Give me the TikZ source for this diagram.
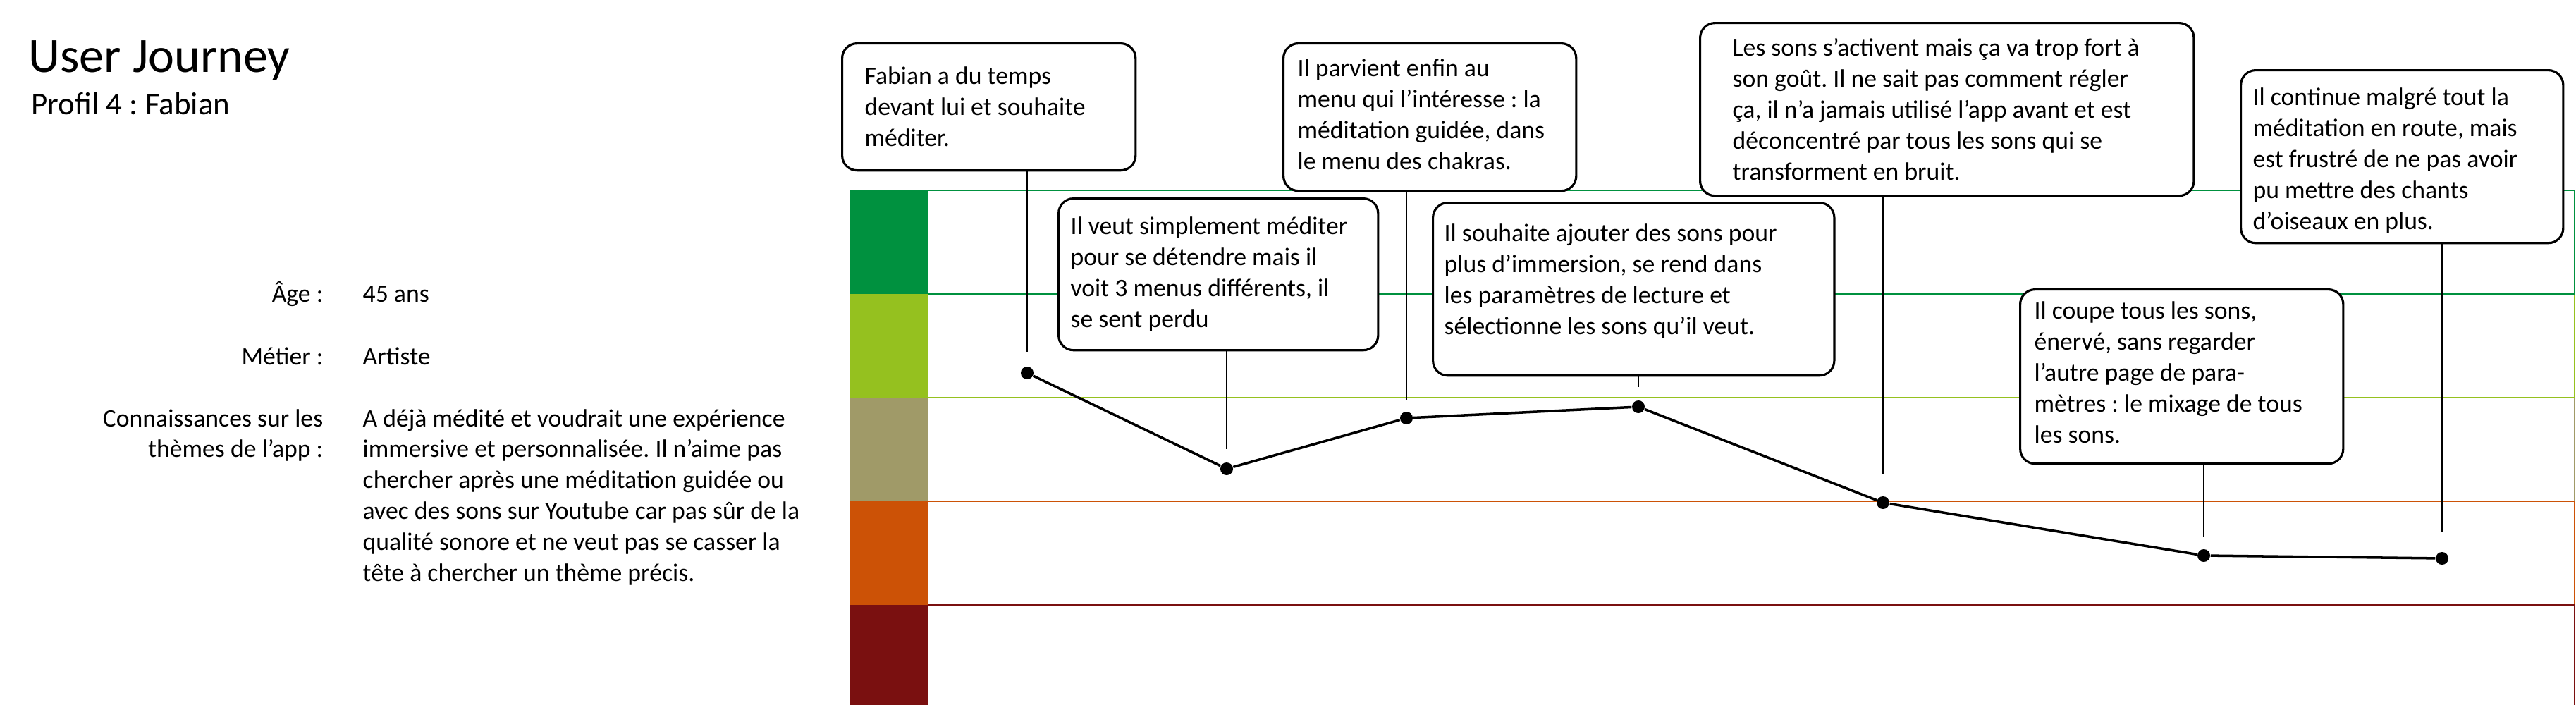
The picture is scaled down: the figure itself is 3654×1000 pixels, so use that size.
\documentclass[tikz,border=0pt]{standalone}
\usepackage{fontspec}
\setmainfont{Carlito}
\usepackage{xcolor}
\usepackage{tikz}
\usetikzlibrary{calc}

\definecolor{vert}{RGB}{0,145,63}
\definecolor{vertclair}{RGB}{149,193,31}
\definecolor{kaki}{RGB}{160,154,104}
\definecolor{orangefonce}{RGB}{204,82,6}
\definecolor{rougefonce}{RGB}{122,16,16}
\newcommand{\corps}{\fontsize{10.15}{12.5}\selectfont}
\frenchspacing

\begin{document}
\begin{tikzpicture}[x=0.01cm, y=-0.01cm,
  etape/.style={draw, line width=0.9pt, rounded corners=6pt, fill=white,
    anchor=north west, align=flush left, inner ysep=0pt, font=\corps},
  texte/.style={inner sep=0pt, font=\corps},
  point/.style={circle, fill, inner sep=0pt, minimum size=0.18cm},
  filet/.style={line width=0.6pt},
  liaison/.style={line width=0.5pt}]
  \useasboundingbox (0,0) rectangle (3654,1000);

  % titre et profil
  \node[anchor=base west, inner sep=0pt, font=\fontsize{19.9}{24}\selectfont] (titre) at (40,102) {User Journey};
  \node[anchor=base west, inner sep=0pt, font=\fontsize{12.8}{15}\selectfont] (profil) at (44,162) {Profil 4 : Fabian};
  \node[texte, anchor=base east] (age) at (459,428) {Âge :};
  \node[texte, anchor=base west] (agev) at (514,428) {45 ans};
  \node[texte, anchor=base east] (metier) at (459,517) {Métier :};
  \node[texte, anchor=base west] (metierv) at (514,517) {Artiste};
  \node[texte, anchor=base east, text width=3.6cm, align=flush right] (connais) at (459,605)
    {Connaissances sur les\\thèmes de l'app :};
  \node[texte, anchor=base west, text width=7cm, align=flush left] (connaisv) at (514,605)
    {A déjà médité et voudrait une expérience\\immersive et personnalisée. Il n'aime pas\\chercher après une méditation guidée ou\\avec des sons sur Youtube car pas sûr de la\\qualité sonore et ne veut pas se casser la\\tête à chercher un thème précis.};

  % bandes d'humeur
  \foreach \c/\ya/\yb in {rougefonce/858/1000, orangefonce/711/858, kaki/564/711, vertclair/417/564, vert/270/417} {
    \fill[\c] (1205,\ya) rectangle (1317,\yb);
    \draw[\c, filet] (3652,\ya) -- (3652,\yb);
  }
  \foreach \y/\c in {270/vert, 417/vert, 564/vertclair, 711/orangefonce, 858/rougefonce}
    \draw[\c, filet] (1317,\y) -- (3652,\y);

  % points du parcours
  \node[point] (p1) at (1457,529) {};
  \node[point] (p2) at (1740,665) {};
  \node[point] (p3) at (1995,593) {};
  \node[point] (p4) at (2324,577) {};
  \node[point] (p5) at (2671,713) {};
  \node[point] (p6) at (3126,788) {};
  \node[point] (p7) at (3464,792) {};
  \draw[line width=1pt] (p1) -- (p2) -- (p3) -- (p4) -- (p5) -- (p6) -- (p7);

  % etapes
  \node[etape, inner xsep=0.32cm, text width=3.52cm, text height=0.58cm, text depth=1.22cm] (b1) at (1193,60)
    {Fabian a du temps\\devant lui et souhaite\\méditer.};
  \node[etape, inner xsep=0.2cm, text width=3.75cm, text height=0.47cm, text depth=1.62cm] (b2) at (1819,60)
    {Il parvient enfin au\\menu qui l'intéresse : la\\méditation guidée, dans\\le menu des chakras.};
  \node[etape, inner xsep=0.17cm, text width=4.19cm, text height=0.51cm, text depth=1.64cm] (b3) at (1500,280)
    {Il veut simplement méditer\\pour se détendre mais il\\voit 3 menus différents, il\\se sent perdu};
  \node[etape, inner xsep=0.16cm, text width=5.37cm, text height=0.55cm, text depth=1.9cm] (b4) at (2031,286)
    {Il souhaite ajouter des sons pour\\plus d'immersion, se rend dans\\les paramètres de lecture et\\sélectionne les sons qu'il veut.};
  \node[etape, inner xsep=0.46cm, text width=6.08cm, text height=0.47cm, text depth=1.98cm] (b5) at (2410,31)
    {Les sons s'activent mais ça va trop fort à\\son goût. Il ne sait pas comment régler\\ça, il n'a jamais utilisé l'app avant et est\\déconcentré par tous les sons qui se\\transforment en bruit.};
  \node[etape, inner xsep=0.17cm, text width=4.23cm, text height=0.5cm, text depth=1.95cm] (b6) at (3177,98)
    {Il continue malgré tout la\\méditation en route, mais\\est frustré de ne pas avoir\\pu mettre des chants\\d'oiseaux en plus.};
  \node[etape, inner xsep=0.2cm, text width=4.18cm, text height=0.42cm, text depth=2.05cm] (b7) at (2864,409)
    {Il coupe tous les sons,\\énervé, sans regarder\\l'autre page de para-\\mètres : le mixage de tous\\les sons.};

  % liaisons etape -> point
  \foreach \b/\p/\g in {b1/p1/30, b3/p2/28, b2/p3/26, b4/p4/28, b5/p5/40, b7/p6/27, b6/p7/37}
    \draw[liaison] (\b.south -| \p) -- ($(\p)+(0,-\g)$);
\end{tikzpicture}
\end{document}
